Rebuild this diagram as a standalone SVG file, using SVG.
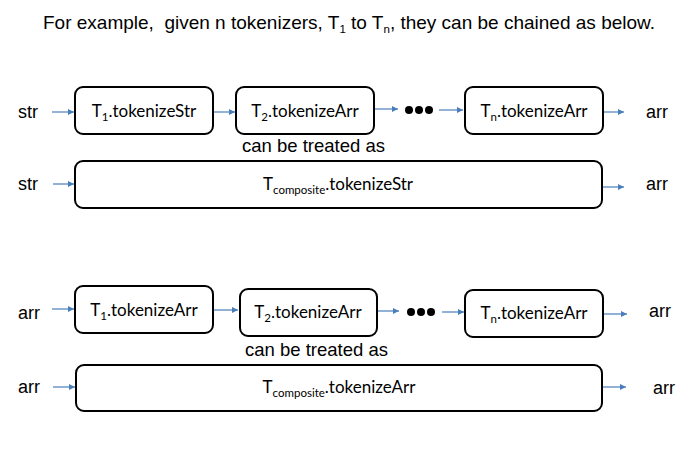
<svg xmlns="http://www.w3.org/2000/svg" width="699" height="455" viewBox="0 0 699 455">
<defs>
<marker id="ah" viewBox="0 0 10 10" refX="10" refY="5" markerWidth="6" markerHeight="6" markerUnits="userSpaceOnUse" orient="auto">
<path d="M0,0 L10,5 L0,10 z" fill="#4a7ebb"/>
</marker>
<style>
.lbl{font-family:"Liberation Sans",Arial,sans-serif;font-size:18px;fill:#000}
.ttl{font-family:"Liberation Sans",Arial,sans-serif;font-size:19px;fill:#000;white-space:pre}
.box{fill:#fff;stroke:#000;stroke-width:2}
.bt{font-family:Lato,"Open Sans",sans-serif;font-size:17px;fill:#000;text-anchor:middle}
.con{stroke:#4a7ebb;stroke-width:1.2;fill:none;marker-end:url(#ah)}
.sub{font-size:11.5px}
</style>
</defs>
<rect width="699" height="455" fill="#fff"/>

<text class="ttl" x="349" y="29" text-anchor="middle" xml:space="preserve">For example,  given n tokenizers, T<tspan class="sub" dy="4">1</tspan><tspan dy="-4"> to T</tspan><tspan class="sub" dy="4">n</tspan><tspan dy="-4">, they can be chained as below.</tspan></text>

<g id="labels">
<text class="lbl" x="18" y="118">str</text>
<text class="lbl" x="646" y="118">arr</text>
<text class="lbl" x="242" y="152" style="font-size:18.5px">can be treated as</text>
<text class="lbl" x="18" y="190">str</text>
<text class="lbl" x="646" y="190">arr</text>
<text class="lbl" x="18" y="319">arr</text>
<text class="lbl" x="649" y="317">arr</text>
<text class="lbl" x="245" y="356" style="font-size:18.5px">can be treated as</text>
<text class="lbl" x="18" y="393">arr</text>
<text class="lbl" x="653" y="394">arr</text>
</g>

<g id="connectors">
<line class="con" x1="52" y1="112" x2="74" y2="112"/>
<line class="con" x1="214" y1="112" x2="235" y2="112"/>
<line class="con" x1="375" y1="109" x2="398" y2="109"/>
<line class="con" x1="439" y1="110" x2="463" y2="110"/>
<line class="con" x1="602" y1="112" x2="624" y2="112"/>
<line class="con" x1="53" y1="184" x2="74" y2="184"/>
<line class="con" x1="603" y1="187" x2="624" y2="187"/>
<line class="con" x1="52" y1="309" x2="74" y2="309"/>
<line class="con" x1="214" y1="310" x2="238" y2="310"/>
<line class="con" x1="378" y1="311" x2="399" y2="311"/>
<line class="con" x1="442" y1="312" x2="464" y2="312"/>
<line class="con" x1="604" y1="314" x2="627" y2="314"/>
<line class="con" x1="53" y1="387" x2="75" y2="387"/>
<line class="con" x1="603" y1="387" x2="626" y2="387"/>
</g>

<g id="dots1">
<circle cx="409" cy="110" r="4"/>
<circle cx="419" cy="110" r="4"/>
<circle cx="429" cy="110" r="4"/>
</g>
<g id="dots2">
<circle cx="411" cy="312" r="4"/>
<circle cx="421" cy="312" r="4"/>
<circle cx="431" cy="312" r="4"/>
</g>

<g id="r1b1">
<rect class="box" x="75" y="87" width="138" height="47" rx="8"/>
<text class="bt" x="144" y="117">T<tspan class="sub" dy="4">1</tspan><tspan dy="-4">.tokenizeStr</tspan></text>
</g>
<g id="r1b2">
<rect class="box" x="236" y="87" width="138" height="47" rx="8"/>
<text class="bt" x="305" y="117">T<tspan class="sub" dy="4">2</tspan><tspan dy="-4">.tokenizeArr</tspan></text>
</g>
<g id="r1bn">
<rect class="box" x="465" y="87" width="138" height="47" rx="8"/>
<text class="bt" x="534" y="117">T<tspan class="sub" dy="4">n</tspan><tspan dy="-4">.tokenizeArr</tspan></text>
</g>
<g id="r2c">
<rect class="box" x="75" y="161" width="527" height="47" rx="8"/>
<text class="bt" x="338" y="190">T<tspan class="sub" dy="4">composite</tspan><tspan dy="-4">.tokenizeStr</tspan></text>
</g>
<g id="r3b1">
<rect class="box" x="75" y="286" width="138" height="47" rx="8"/>
<text class="bt" x="144" y="316">T<tspan class="sub" dy="4">1</tspan><tspan dy="-4">.tokenizeArr</tspan></text>
</g>
<g id="r3b2">
<rect class="box" x="240" y="289" width="137" height="47" rx="8"/>
<text class="bt" x="308" y="318">T<tspan class="sub" dy="4">2</tspan><tspan dy="-4">.tokenizeArr</tspan></text>
</g>
<g id="r3bn">
<rect class="box" x="465" y="290" width="138" height="47" rx="8"/>
<text class="bt" x="534" y="319">T<tspan class="sub" dy="4">n</tspan><tspan dy="-4">.tokenizeArr</tspan></text>
</g>
<g id="r4c">
<rect class="box" x="76" y="365" width="526" height="46" rx="8"/>
<text class="bt" x="339" y="393">T<tspan class="sub" dy="4">composite</tspan><tspan dy="-4">.tokenizeArr</tspan></text>
</g>
</svg>
